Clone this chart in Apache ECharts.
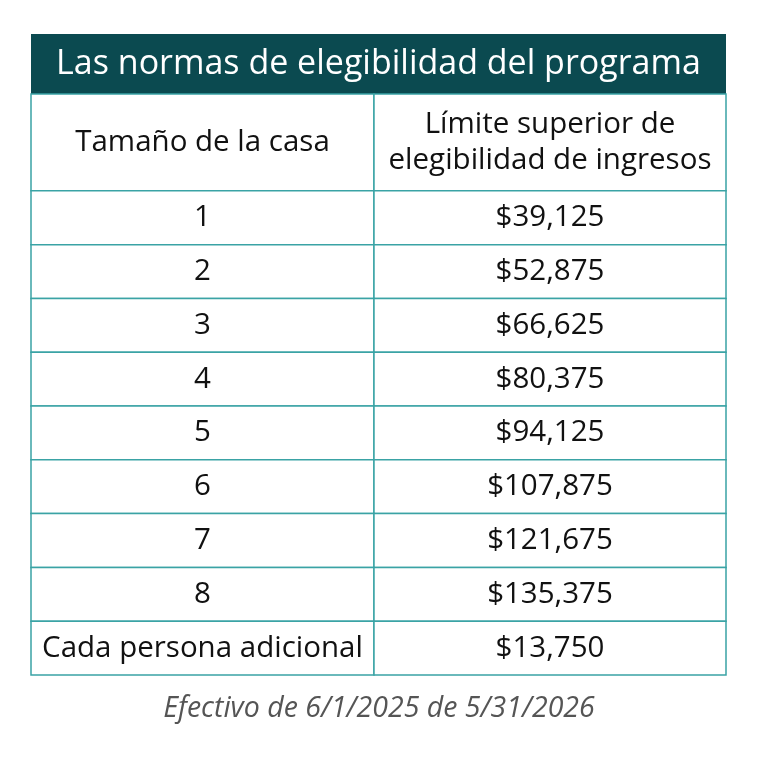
<!DOCTYPE html>
<html><head><meta charset="utf-8">
<script src="https://cdn.jsdelivr.net/npm/echarts@6/dist/echarts.min.js"></script>
<style>html,body{margin:0;padding:0;background:#fff}#c{width:758px;height:757px}</style>
</head><body><div id="c"></div>
<script>
const titleText = 'Las normas de elegibilidad del programa';
const headers = ['Tamaño de la casa', 'Límite superior de\nelegibilidad de ingresos'];
const sizes = ['1','2','3','4','5','6','7','8','Cada persona adicional'];
const limits = ['$39,125','$52,875','$66,625','$80,375','$94,125','$107,875','$121,675','$135,375','$13,750'];
const footer = 'Efectivo de 6/1/2025 de 5/31/2026';

const HEADER_UNITS = 1.8;
const SPLIT = 0.4935;
const rows = [{y0:0, y1:HEADER_UNITS, a:headers[0], b:headers[1]}];
sizes.forEach((s,i)=>rows.push({y0:HEADER_UNITS+i, y1:HEADER_UNITS+i+1, a:s, b:limits[i]}));
const total = HEADER_UNITS + sizes.length;
const border = '#3aa3a5';
const font = '"Open Sans", sans-serif';

const chart = echarts.init(document.getElementById('c'));
chart.setOption({
  animation:false,
  title:{text:footer, left:'center', bottom:29, textStyle:{fontFamily:font, fontStyle:'italic', fontWeight:'normal', fontSize:28.5, color:'#555'}},
  graphic:[
    {type:'rect', shape:{x:31,y:34,width:695,height:60}, style:{fill:'#0b4a50'}},
    {type:'text', x:378.5, y:64, style:{text:titleText, fill:'#fff', font:'500 34px "Open Sans", sans-serif', align:'center', verticalAlign:'middle'}}
  ],
  grid:{left:31,right:32,top:94,bottom:82},
  xAxis:{type:'value',min:0,max:1,show:false},
  yAxis:{type:'value',min:0,max:total,inverse:true,show:false},
  series:[{
    type:'custom',
    data:rows.map((r,i)=>[i]),
    renderItem:(params, api)=>{
      const r = rows[api.value(0)];
      const p0 = api.coord([0,r.y0]), pm = api.coord([SPLIT,r.y1]), p1 = api.coord([1,r.y1]);
      const ts = {fill:'#111', font:'29.5px "Open Sans", sans-serif', align:'center', verticalAlign:'middle', lineHeight:36};
      return {type:'group', children:[
        {type:'rect', shape:{x:p0[0],y:p0[1],width:pm[0]-p0[0],height:pm[1]-p0[1]}, style:{fill:'#fff',stroke:border,lineWidth:1.5}},
        {type:'rect', shape:{x:pm[0],y:p0[1],width:p1[0]-pm[0],height:p1[1]-p0[1]}, style:{fill:'#fff',stroke:border,lineWidth:1.5}},
        {type:'text', x:(p0[0]+pm[0])/2, y:(p0[1]+pm[1])/2, style:Object.assign({text:r.a},ts)},
        {type:'text', x:(pm[0]+p1[0])/2, y:(p0[1]+p1[1])/2, style:Object.assign({text:r.b},ts)}
      ]};
    }
  }]
});
</script></body></html>
